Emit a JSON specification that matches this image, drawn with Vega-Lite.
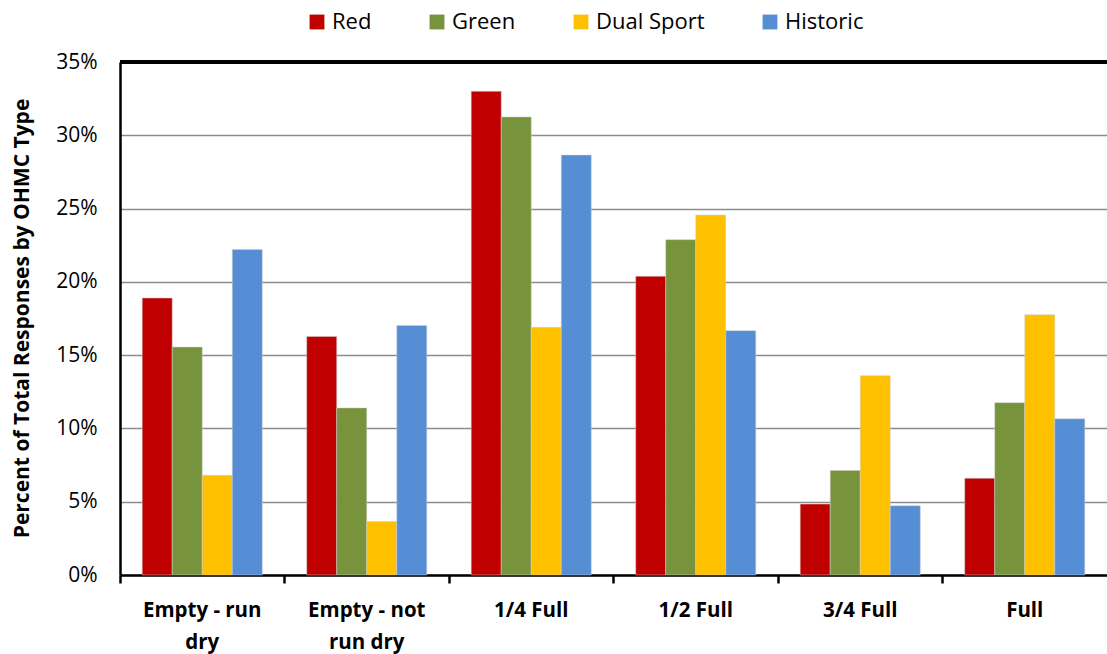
{
  "$schema": "https://vega.github.io/schema/vega-lite/v6.json",
  "autosize": "none",
  "width": 987,
  "height": 513,
  "padding": {"left": 120, "top": 62, "right": 0, "bottom": 79},
  "background": "white",
  "config": {
    "font": "Open Sans",
    "view": {"stroke": null}
  },
  "data": {
    "values": [
      {"level": "Empty - run dry", "type": "Red", "pct": 18.9},
      {"level": "Empty - run dry", "type": "Green", "pct": 15.55},
      {"level": "Empty - run dry", "type": "Dual Sport", "pct": 6.8},
      {"level": "Empty - run dry", "type": "Historic", "pct": 22.2},
      {"level": "Empty - not run dry", "type": "Red", "pct": 16.27},
      {"level": "Empty - not run dry", "type": "Green", "pct": 11.4},
      {"level": "Empty - not run dry", "type": "Dual Sport", "pct": 3.65},
      {"level": "Empty - not run dry", "type": "Historic", "pct": 17.03},
      {"level": "1/4 Full", "type": "Red", "pct": 33.0},
      {"level": "1/4 Full", "type": "Green", "pct": 31.25},
      {"level": "1/4 Full", "type": "Dual Sport", "pct": 16.9},
      {"level": "1/4 Full", "type": "Historic", "pct": 28.65},
      {"level": "1/2 Full", "type": "Red", "pct": 20.38},
      {"level": "1/2 Full", "type": "Green", "pct": 22.88},
      {"level": "1/2 Full", "type": "Dual Sport", "pct": 24.56},
      {"level": "1/2 Full", "type": "Historic", "pct": 16.67},
      {"level": "3/4 Full", "type": "Red", "pct": 4.84},
      {"level": "3/4 Full", "type": "Green", "pct": 7.13},
      {"level": "3/4 Full", "type": "Dual Sport", "pct": 13.6},
      {"level": "3/4 Full", "type": "Historic", "pct": 4.72},
      {"level": "Full", "type": "Red", "pct": 6.6},
      {"level": "Full", "type": "Green", "pct": 11.76},
      {"level": "Full", "type": "Dual Sport", "pct": 17.76},
      {"level": "Full", "type": "Historic", "pct": 10.66}
    ]
  },
  "layer": [
    {
      "mark": {"type": "bar", "stroke": "#d0d0d0", "strokeWidth": 0.5},
      "encoding": {
        "x": {
          "field": "level",
          "type": "nominal",
          "sort": ["Empty - run dry", "Empty - not run dry", "1/4 Full", "1/2 Full", "3/4 Full", "Full"],
          "scale": {"paddingInner": 0, "paddingOuter": 0},
          "axis": {
            "title": null,
            "labelAngle": 0,
            "labelFontSize": 20.5,
            "labelFontWeight": "bold",
            "labelColor": "#000000",
            "labelPadding": 17,
            "labelLineHeight": 32,
            "labelExpr": "datum.value == 'Empty - run dry' ? ['Empty - run', 'dry'] : datum.value == 'Empty - not run dry' ? ['Empty - not', 'run dry'] : datum.value",
            "bandPosition": 0,
            "ticks": true,
            "tickColor": "#000000",
            "tickWidth": 2.5,
            "tickSize": 8,
            "domainColor": "#000000",
            "domainWidth": 2.5,
            "grid": false
          }
        },
        "xOffset": {
          "field": "type",
          "type": "nominal",
          "sort": ["Red", "Green", "Dual Sport", "Historic"],
          "scale": {"paddingInner": 0, "paddingOuter": 0.74}
        },
        "y": {
          "field": "pct",
          "type": "quantitative",
          "scale": {"domain": [0, 35]},
          "axis": {
            "title": "Percent of Total Responses by OHMC Type",
            "titleFontSize": 21,
            "titleFontWeight": "bold",
            "titleColor": "#000000",
            "titleX": -88,
            "titleY": 256,
            "titleAlign": "center",
            "titleAngle": -90,
            "values": [0, 5, 10, 15, 20, 25, 30, 35],
            "labelExpr": "datum.value + '%'",
            "labelFontSize": 21,
            "labelColor": "#000000",
            "labelPadding": 23,
            "ticks": false,
            "domainColor": "#000000",
            "domainWidth": 2.5,
            "grid": true,
            "gridColor": "#8c8c8c",
            "gridWidth": 1.5
          }
        },
        "color": {
          "field": "type",
          "type": "nominal",
          "sort": ["Red", "Green", "Dual Sport", "Historic"],
          "scale": {
            "domain": ["Red", "Green", "Dual Sport", "Historic"],
            "range": ["#C00000", "#77933C", "#FFC000", "#558ED5"]
          },
          "legend": {
            "title": null,
            "orient": "none",
            "direction": "horizontal",
            "legendX": 186,
            "legendY": -51,
            "symbolType": "square",
            "symbolSize": 220,
            "symbolStrokeWidth": 0,
            "labelFontSize": 22,
            "labelColor": "#000000",
            "labelOffset": 4,
            "columnPadding": 54
          }
        }
      }
    },
    {
      "mark": {"type": "rule", "color": "#000000", "strokeWidth": 3},
      "encoding": {"y": {"datum": 35}}
    }
  ]
}
